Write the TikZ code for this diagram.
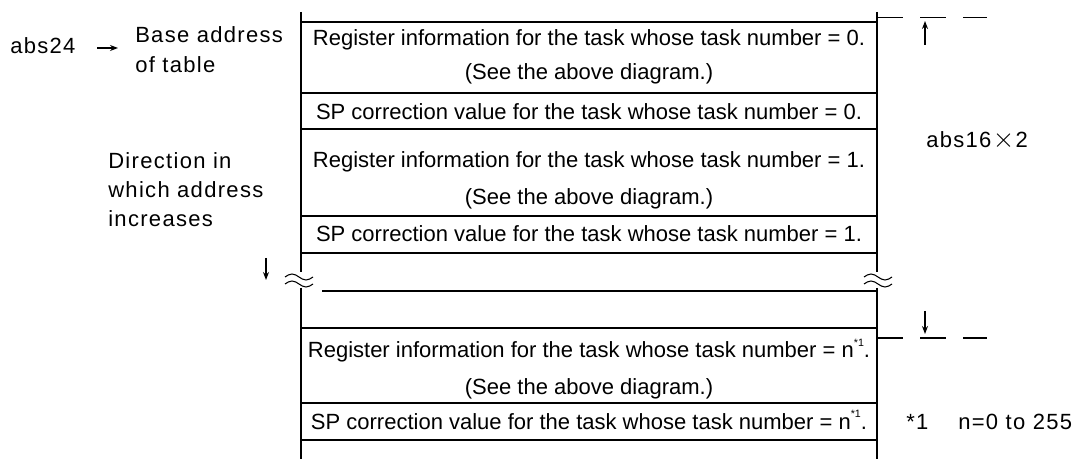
\documentclass[tikz,border=0pt]{standalone}
\usepackage{fontspec}
\setmainfont{Liberation Sans}
\newfontfamily\lblfont[LetterSpace=6]{Liberation Sans}
\usetikzlibrary{arrows.meta}
\newcommand{\supone}{\raisebox{0.52em}{\fontsize{8}{9}\selectfont *1}}
\begin{document}
\begin{tikzpicture}[x=0.75pt,y=-0.75pt,
  rowtext/.style={inner sep=0,anchor=base,font=\fontsize{16.5}{19.8}\selectfont},
  lbl/.style={inner sep=0,anchor=base west,font=\lblfont\fontsize{16.5}{19.8}\selectfont},
  vline/.style={line width=1.7pt},
  hline/.style={line width=1pt},
  arr/.style={line width=0.9pt,-{Stealth[length=6pt,width=4.5pt]}},
  brk/.style={line width=0.8pt},
  dashline/.style={line width=1.4pt,dash pattern=on 19.5pt off 12.75pt}]
\useasboundingbox (0,0) rectangle (1088,459);
% table frame
\coordinate (LT) at (301,12);
\coordinate (LB1) at (301,272);
\coordinate (LT2) at (301,288);
\coordinate (LB) at (301,459);
\coordinate (RT) at (877,12);
\coordinate (RB1) at (877,272);
\coordinate (RT2) at (877,288);
\coordinate (RB) at (877,459);
\draw[vline] (LT) -- (LB1);
\draw[vline] (LT2) -- (LB);
\draw[vline] (RT) -- (RB1);
\draw[vline] (RT2) -- (RB);
% horizontal lines
\foreach \y in {22,93,129,216,253,328,403,440}
  \draw[hline] (301,\y) -- (877,\y);
\draw[hline] (322,291) -- (877,291);
% break marks
\draw[brk] (285,277) sin (292,274) cos (299,277) sin (306,280) cos (313,277);
\draw[brk] (285,284) sin (292,281) cos (299,284) sin (306,287) cos (313,284);
\draw[brk] (864,277) sin (871,274) cos (878,277) sin (885,280) cos (892,277);
\draw[brk] (864,284) sin (871,281) cos (878,284) sin (885,287) cos (892,284);
% row texts
\node[rowtext] (r0a) at (589,45.5) {Register information for the task whose task number = 0.};
\node[rowtext] (r0b) at (589,80) {(See the above diagram.)};
\node[rowtext] (s0) at (589,120) {SP correction value for the task whose task number = 0.};
\node[rowtext] (r1a) at (589,168) {Register information for the task whose task number = 1.};
\node[rowtext] (r1b) at (589,205) {(See the above diagram.)};
\node[rowtext] (s1) at (589,242) {SP correction value for the task whose task number = 1.};
\node[rowtext] (rna) at (589,358) {Register information for the task whose task number = n\supone.};
\node[rowtext] (rnb) at (589,394) {(See the above diagram.)};
\node[rowtext] (sn) at (589,429) {SP correction value for the task whose task number = n\supone.};
% left labels
\node[lbl] (abs) at (10,54) {abs24};
\node[lbl] (base1) at (135,43) {Base address};
\node[lbl] (base2) at (135,73) {of table};
\node[lbl] (dir1) at (108,169) {Direction in};
\node[lbl] (dir2) at (108,198) {which address};
\node[lbl] (dir3) at (108,227) {increases};
\coordinate (a24s) at (97,48);
\coordinate (a24e) at (118,48);
\draw[arr] (a24s) -- (a24e);
\coordinate (dirs) at (266,258);
\coordinate (dire) at (266,280);
\draw[arr] (dirs) -- (dire);
% right side
\coordinate (dT) at (877,17.5);
\coordinate (dTe) at (987,17.5);
\draw[dashline] (dT) -- (dTe);
\coordinate (dB) at (877,338);
\coordinate (dBe) at (987,338);
\draw[dashline] (dB) -- (dBe);
\coordinate (upS) at (925,45);
\coordinate (upE) at (925,21);
\draw[arr] (upS) -- (upE);
\coordinate (dnS) at (925,311);
\coordinate (dnE) at (925,334);
\draw[arr] (dnS) -- (dnE);
\node[lbl] (abs16) at (926,148) {abs16\hspace{1pt}{\fontsize{21}{22}\selectfont$\times$}\hspace{1pt}2};
\node[lbl] (foot1) at (906,429) {*1};
\node[lbl] (foot2) at (958,429) {n=0 to 255};
\end{tikzpicture}
\end{document}
